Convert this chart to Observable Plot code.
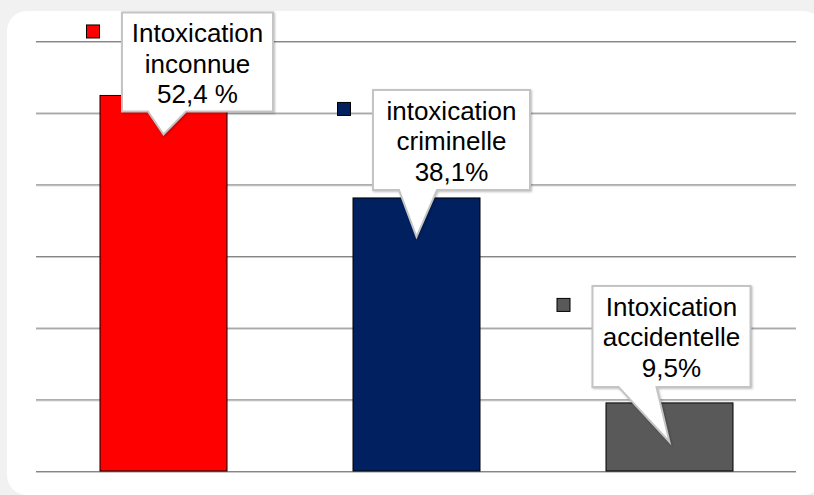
<!DOCTYPE html>
<html><head><meta charset="utf-8">
<script src="https://cdn.jsdelivr.net/npm/d3@7"></script>
<script src="https://cdn.jsdelivr.net/npm/@observablehq/plot@0.6"></script>
<style>
html,body{margin:0;padding:0;background:#f1f1f1;}
#wrap{position:relative;width:814px;height:495px;overflow:hidden;}
#panel{position:absolute;left:7px;top:11px;width:816px;height:484px;background:#fff;border-radius:20px;}
#chart{position:absolute;left:0;top:0;}
</style></head><body>
<div id="wrap"><div id="panel"></div><div id="chart"></div></div>
<script>
// ---- data ----
const categories = ["Intoxication inconnue", "intoxication criminelle", "Intoxication accidentelle"];
const values = [52.4, 38.1, 9.5];
const labelLines = [
  ["Intoxication", "inconnue", "52,4 %"],
  ["intoxication", "criminelle", "38,1%"],
  ["Intoxication", "accidentelle", "9,5%"]
];
const colors = ["#ff0000", "#002060", "#595959"];
const yTicks = [0, 10, 20, 30, 40, 50, 60];

// ---- layout (pixel offsets of callouts relative to bar centre/top) ----
const calloutLayout = [
  {left: -41.5, width: 151, top: -83, height: 99},
  {left: -43.5, width: 157, top: -108, height: 100},
  {left: -77, width: 158, top: -117, height: 101}
];
const tipDepth = 39;

const data = categories.map((c, i) => ({cat: c, value: values[i]}));

function callouts(index, scales, channels, dimensions, context) {
  const sx = scales.x, sy = scales.y;
  const bw = typeof sx.bandwidth === "function" ? sx.bandwidth() : sx.bandwidth;
  const g = d3.create("svg:g");
  categories.forEach((c, i) => {
    const cx = sx(c) + bw / 2;
    const by = sy(values[i]);
    const lay = calloutLayout[i];
    const L = cx + lay.left, R = L + lay.width, T = by + lay.top, B = T + lay.height;
    const tx = cx, ty = by + tipDepth;
    const p1 = L + 26, p2 = L + 64;
    g.append("path")
      .attr("d", `M${L},${T}H${R}V${B}H${p2}L${tx},${ty}L${p1},${B}H${L}Z`)
      .attr("fill", "#fff")
      .attr("stroke", "#c4c4c4")
      .attr("stroke-width", 2)
      .attr("stroke-linejoin", "miter")
      .style("filter", "drop-shadow(1px 1px 1px rgba(0,0,0,0.25))");
    g.append("rect")
      .attr("x", L - 35.5).attr("y", T + 12.5)
      .attr("width", 13).attr("height", 13)
      .attr("fill", colors[i]).attr("stroke", "#000").attr("stroke-width", 1);
    const t = g.append("text")
      .attr("text-anchor", "middle")
      .attr("font-family", "'Liberation Sans', Arial, sans-serif")
      .attr("font-size", 26)
      .attr("fill", "#000");
    labelLines[i].forEach((line, j) => {
      t.append("tspan").attr("x", (L + R) / 2).attr("y", T + 30 + 30.5 * j).text(line);
    });
  });
  return g.node();
}

const plot = Plot.plot({
  width: 814,
  height: 495,
  marginLeft: 36,
  marginRight: 18,
  marginTop: 41,
  marginBottom: 24,
  style: {background: "transparent", fontFamily: "'Liberation Sans', Arial, sans-serif"},
  x: {domain: categories, padding: 0, axis: null},
  y: {domain: [0, 60], axis: null},
  color: {domain: categories, range: colors},
  marks: [
    Plot.ruleY(yTicks, {stroke: "#c8c8c8", strokeWidth: 1, dy: 1}),
    Plot.ruleY(yTicks, {stroke: "#868686", strokeWidth: 1}),
    Plot.barY(data, {x: "cat", y: "value", fill: "cat", stroke: "#000", strokeWidth: 1, insetLeft: 63, insetRight: 63}),
    callouts
  ]
});
document.getElementById("chart").appendChild(plot);
</script>
</body></html>
